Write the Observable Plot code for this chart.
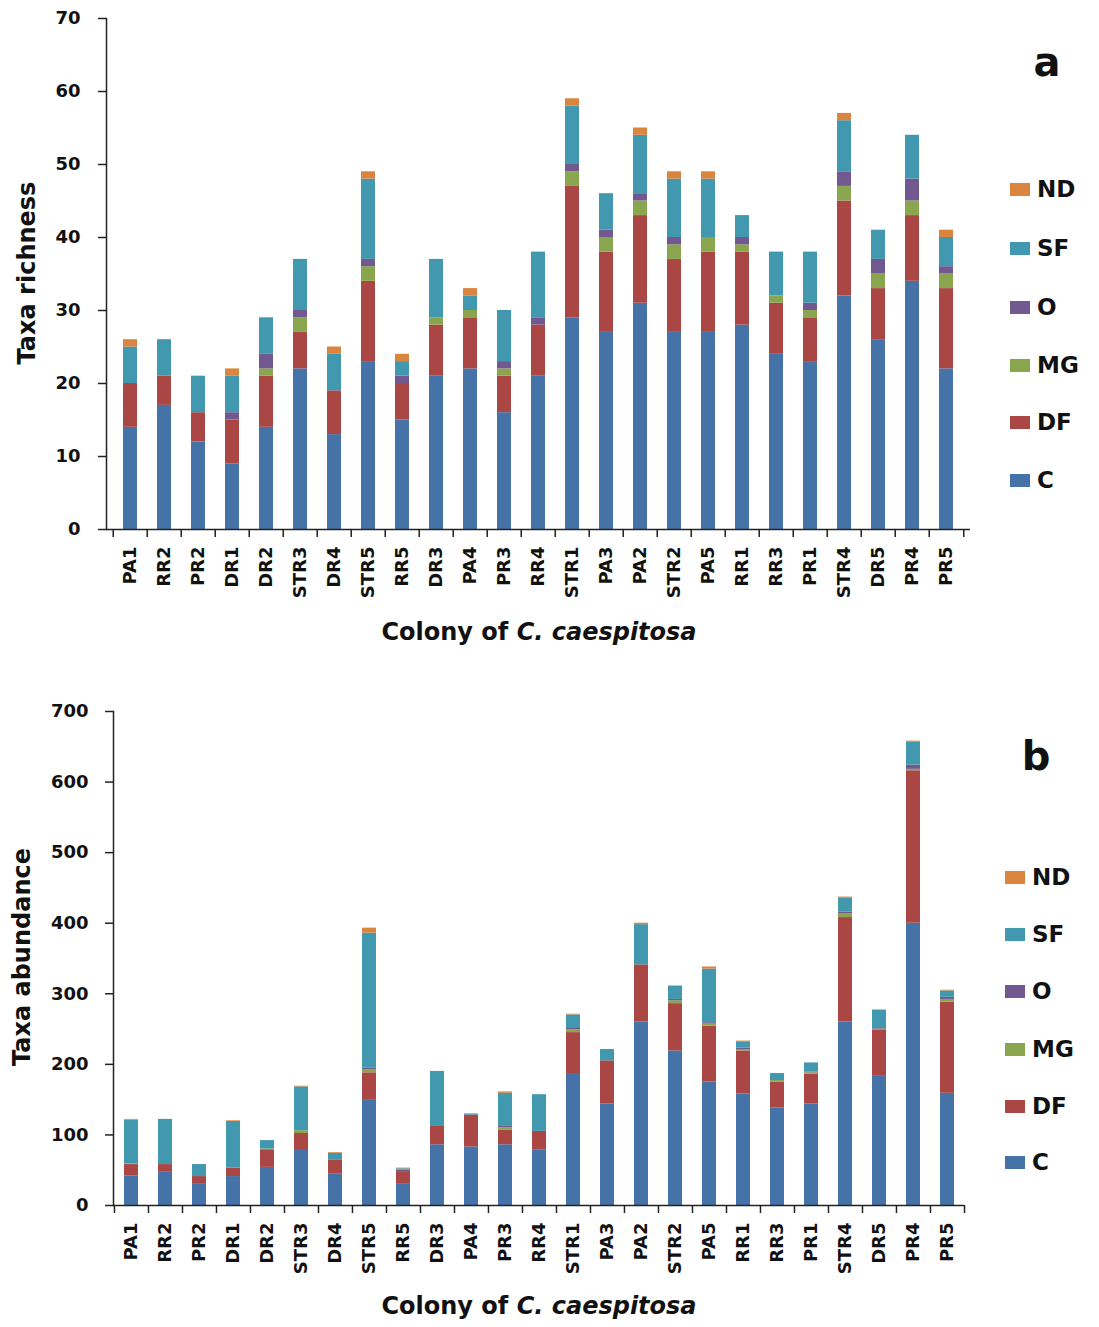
<!DOCTYPE html>
<html>
<head>
<meta charset="utf-8">
<script src="https://cdn.jsdelivr.net/npm/d3@7"></script>
<script src="https://cdn.jsdelivr.net/npm/@observablehq/plot@0.6"></script>
<style>
  html, body { margin: 0; padding: 0; background: #fff; }
  #wrap { position: relative; width: 1099px; height: 1327px; overflow: hidden; font-family: "DejaVu Sans", sans-serif; font-weight: bold; color: #111; }
  #wrap svg { position: absolute; left: 0; }
  .ov { position: absolute; white-space: nowrap; line-height: 1; }
  .ytitle { transform: translate(-50%, -50%) rotate(-90deg); font-size: 24px; }
  .xtitle { transform: translate(-50%, -50%); font-size: 24px; }
  .panel { transform: translate(-50%, -50%); font-size: 40px; }
  .leg { position: absolute; display: flex; align-items: center; font-size: 23px; transform: translateY(-50%); }
  .sw { display: inline-block; width: 20px; height: 13px; margin-right: 7px; }
</style>
</head>
<body>
<div id="wrap"></div>
<script>
// ---------- data ----------
const colonies = ["PA1","RR2","PR2","DR1","DR2","STR3","DR4","STR5","RR5","DR3","PA4","PR3","RR4","STR1","PA3","PA2","STR2","PA5","RR1","RR3","PR1","STR4","DR5","PR4","PR5"];
const groups = ["C","DF","MG","O","SF","ND"];
const groupColors = ["#4572A7","#AA4643","#89A54E","#71588F","#4198AF","#DB843D"];

// (a) Taxa richness
const richC  = [14,17,12,9,14,22,13,23,15,21,22,16,21,29,27,31,27,27,28,24,23,32,26,34,22];
const richDF = [6,4,4,6,7,5,6,11,5,7,7,5,7,18,11,12,10,11,10,7,6,13,7,9,11];
const richMG = [0,0,0,0,1,2,0,2,0,1,1,1,0,2,2,2,2,2,1,1,1,2,2,2,2];
const richO  = [0,0,0,1,2,1,0,1,1,0,0,1,1,1,1,1,1,0,1,0,1,2,2,3,1];
const richSF = [5,5,5,5,5,7,5,11,2,8,2,7,9,8,5,8,8,8,3,6,7,7,4,6,4];
const richND = [1,0,0,1,0,0,1,1,1,0,1,0,0,1,0,1,1,1,0,0,0,1,0,0,1];

// (b) Taxa abundance
const abunC  = [42,47,31,41,54,78,45,149,30,86,83,86,79,187,144,260,219,175,158,138,144,260,183,400,159];
const abunDF = [16,11,10,12,25,24,19,39,18,26,45,21,26,58,61,81,67,79,61,37,42,148,65,216,129];
const abunMG = [1,0,0,0,1,4,0,4,0,0,0,3,0,4,0,0,4,3,2,2,2,5,2,2,4];
const abunO  = [0,0,0,0,0,0,0,3,2,0,0,3,0,3,0,0,2,2,2,0,1,3,2,6,3];
const abunSF = [62,64,17,66,12,62,10,191,2,78,1,46,52,18,16,57,19,76,9,10,13,20,25,33,9];
const abunND = [1,0,0,1,0,1,1,7,1,0,1,2,0,1,0,2,0,3,1,0,0,1,0,1,1];

const richTicks = [0,10,20,30,40,50,60,70];
const abunTicks = [0,100,200,300,400,500,600,700];

// ---------- build ----------
function toRows(series) {
  const rows = [];
  groups.forEach((g, gi) => {
    series[gi].forEach((v, i) => rows.push({colony: colonies[i], group: g, value: v}));
  });
  return rows;
}

function makeChart({series, ticks, height, mt, mb, ml, mr, pad}) {
  const W = 1099;
  const step = (W - ml - mr) / colonies.length;
  const rows = toRows(series);
  return Plot.plot({
    width: W, height,
    marginTop: mt, marginBottom: mb, marginLeft: ml, marginRight: mr,
    style: {fontFamily: "DejaVu Sans, sans-serif", fontWeight: "bold", fontSize: "18px", color: "#111", background: "transparent", overflow: "visible"},
    x: {domain: colonies, paddingInner: 0.6, paddingOuter: 0.3, axis: null, label: null},
    y: {domain: [ticks[0], ticks[ticks.length - 1]], axis: null, label: null},
    color: {domain: groups, range: groupColors},
    marks: [
      Plot.barY(rows, Plot.stackY({x: "colony", y: "value", fill: "group"})),
      Plot.axisY({ticks, tickSize: 8, tickPadding: pad, stroke: "#222", strokeWidth: 1.5, label: null}),
      Plot.axisX({tickSize: 0, tickRotate: -90, tickPadding: 17, label: null}),
      Plot.axisX({tickSize: 8, tickFormat: () => "", dx: -step / 2, stroke: "#222", strokeWidth: 1.5, label: null}),
      Plot.axisX({ticks: [colonies[colonies.length - 1]], tickSize: 8, tickFormat: () => "", dx: step / 2, stroke: "#222", strokeWidth: 1.5, label: null}),
      Plot.ruleY([0], {stroke: "#222", strokeWidth: 1.5}),
      Plot.frame({anchor: "left", stroke: "#222", strokeWidth: 1.5})
    ]
  });
}

const wrap = document.getElementById("wrap");

const chartA = makeChart({
  series: [richC, richDF, richMG, richO, richSF, richND],
  ticks: richTicks, height: 663, mt: 18, mb: 134, ml: 106, mr: 129, pad: 18
});
chartA.style.top = "0px";
wrap.appendChild(chartA);

const chartB = makeChart({
  series: [abunC, abunDF, abunMG, abunO, abunSF, abunND],
  ticks: abunTicks, height: 664, mt: 48, mb: 122, ml: 113, mr: 135, pad: 17
});
chartB.style.top = "663px";
wrap.appendChild(chartB);

// ---------- text overlays ----------
function ov(cls, html, x, y) {
  const d = document.createElement("div");
  d.className = "ov " + cls;
  d.innerHTML = html;
  d.style.left = x + "px";
  d.style.top = y + "px";
  wrap.appendChild(d);
}
ov("ytitle", "Taxa richness", 27, 273);
ov("ytitle", "Taxa abundance", 22, 957);
ov("xtitle", "Colony of <i>C. caespitosa</i>", 539, 632);
ov("xtitle", "Colony of <i>C. caespitosa</i>", 539, 1306);
ov("panel", "a", 1047, 62);
ov("panel", "b", 1036, 756);

function legend(x, ys) {
  const order = ["ND","SF","O","MG","DF","C"];
  order.forEach((g, i) => {
    const d = document.createElement("div");
    d.className = "leg";
    d.style.left = x + "px";
    d.style.top = ys[i] + "px";
    d.innerHTML = `<span class="sw" style="background:${groupColors[groups.indexOf(g)]}"></span>${g}`;
    wrap.appendChild(d);
  });
}
legend(1010, [189, 248, 307, 365, 422, 480]);
legend(1005, [877, 934, 991, 1049, 1106, 1162]);
</script>
</body>
</html>
